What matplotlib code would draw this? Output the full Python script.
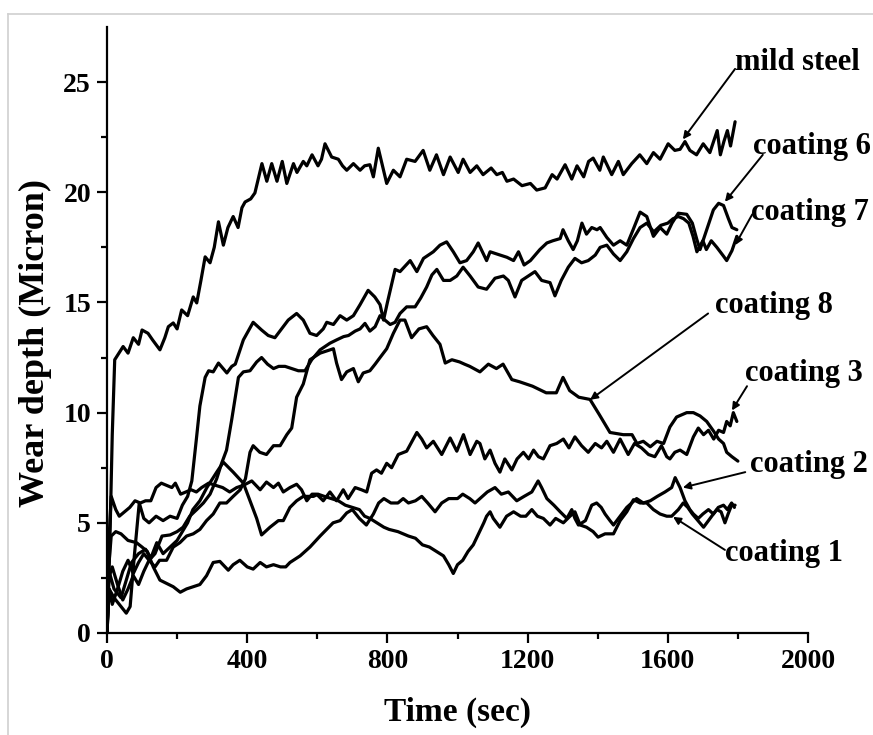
import numpy as np
import matplotlib.pyplot as plt
from matplotlib.lines import Line2D

# wear depth (micron) vs time (sec)
mild_steel = [(0, 0), (8, 4), (15, 9), (22, 12.4), (30, 12.6), (46, 13.0), (60, 12.7), (75, 13.4),
              (90, 13.1), (100, 13.75), (117, 13.6), (130, 13.3), (151, 12.85), (165, 13.4), (175, 13.9),
              (189, 14.07), (200, 13.8), (213, 14.66), (230, 14.4), (246, 15.25), (256, 14.98), (268, 16.0),
              (280, 17.07), (294, 16.8), (306, 17.5), (318, 18.66), (332, 17.6), (345, 18.4), (360, 18.9),
              (374, 18.4), (385, 19.3), (394, 19.56), (410, 19.7), (422, 19.97), (442, 21.3), (456, 20.5),
              (470, 21.3), (485, 20.5), (500, 21.4), (513, 20.4), (532, 21.3), (542, 20.9), (560, 21.4),
              (570, 21.2), (585, 21.7), (602, 21.2), (612, 21.5), (622, 22.2), (641, 21.6), (660, 21.5),
              (672, 21.2), (684, 21.0), (703, 21.3), (722, 21.0), (735, 21.2), (750, 21.25), (760, 20.7),
              (774, 22.0), (798, 20.4), (817, 21.0), (836, 20.7), (855, 21.5), (879, 21.4), (902, 21.9),
              (921, 21.0), (940, 21.7), (960, 20.8), (979, 21.6), (1002, 20.9), (1016, 21.5), (1036, 20.9),
              (1055, 21.2), (1073, 20.8), (1096, 21.1), (1112, 20.8), (1128, 20.9), (1141, 20.5),
              (1160, 20.6), (1184, 20.3), (1208, 20.4), (1226, 20.1), (1250, 20.2), (1270, 20.8),
              (1284, 20.6), (1307, 21.25), (1326, 20.6), (1341, 21.2), (1360, 20.7), (1374, 21.4),
              (1387, 21.55), (1406, 21.0), (1416, 21.6), (1440, 20.8), (1459, 21.4), (1473, 20.8),
              (1497, 21.3), (1520, 21.7), (1540, 21.3), (1559, 21.8), (1578, 21.5), (1601, 22.2),
              (1620, 21.9), (1635, 21.95), (1649, 22.3), (1663, 21.9), (1682, 21.7), (1701, 22.2),
              (1720, 21.8), (1741, 22.8), (1750, 21.7), (1760, 22.3), (1770, 22.8), (1779, 22.1), (1792, 23.2)]

coating_6 = [(0, 0), (6, 2.0), (20, 1.6), (40, 1.2), (55, 0.9), (66, 1.2), (78, 3.5), (92, 5.9), (105, 5.2),
             (120, 5.0), (140, 5.3), (160, 5.1), (180, 5.3), (200, 5.2), (215, 5.8), (230, 6.2), (242, 6.9),
             (255, 8.8), (265, 10.3), (280, 11.6), (290, 11.9), (303, 11.85), (318, 12.25), (342, 11.8),
             (356, 12.1), (366, 12.2), (389, 13.3), (417, 14.1), (441, 13.75), (460, 13.5), (479, 13.4),
             (498, 13.8), (517, 14.2), (541, 14.5), (560, 14.2), (579, 13.6), (598, 13.5), (617, 13.8),
             (627, 14.1), (646, 14.0), (665, 14.4), (684, 14.2), (703, 14.4), (722, 14.9), (745, 15.55),
             (764, 15.25), (779, 14.9), (789, 14.2), (800, 15.0), (822, 16.5), (836, 16.4), (865, 16.9),
             (884, 16.4), (903, 17.0), (931, 17.3), (950, 17.6), (969, 17.75), (988, 17.3), (1007, 16.8),
             (1026, 16.9), (1045, 17.3), (1059, 17.7), (1074, 17.2), (1083, 16.9), (1093, 17.3),
             (1112, 17.2), (1141, 17.05), (1160, 16.9), (1174, 17.3), (1190, 16.7), (1208, 16.9),
             (1235, 17.4), (1255, 17.7), (1272, 17.8), (1293, 17.9), (1301, 18.3), (1316, 17.8),
             (1330, 17.4), (1342, 17.8), (1355, 18.6), (1368, 18.1), (1383, 18.4), (1398, 18.3),
             (1407, 18.4), (1426, 17.95), (1445, 17.6), (1464, 17.8), (1483, 17.6), (1501, 18.3),
             (1521, 19.1), (1540, 18.9), (1559, 18.0), (1578, 18.4), (1597, 18.1), (1612, 18.6),
             (1630, 19.05), (1654, 19.0), (1670, 18.6), (1683, 17.85), (1692, 17.4), (1711, 18.3),
             (1730, 19.2), (1745, 19.5), (1759, 19.4), (1773, 18.8), (1783, 18.4), (1797, 18.3)]

coating_7 = [(0, 0), (5, 2.5), (15, 3.0), (30, 2.2), (45, 1.5), (60, 2.0), (75, 2.6), (90, 2.2), (105, 2.8),
             (120, 3.3), (137, 3.6), (157, 4.4), (180, 4.45), (200, 4.6), (217, 4.8), (236, 5.3), (256, 5.6),
             (275, 5.9), (294, 6.3), (313, 7.0), (327, 7.7), (341, 8.3), (356, 9.7), (375, 11.6),
             (389, 11.85), (408, 11.9), (427, 12.3), (441, 12.5), (458, 12.2), (475, 12.0), (490, 12.1),
             (508, 12.1), (527, 12.0), (546, 11.9), (565, 11.9), (584, 12.4), (608, 12.85), (636, 13.15),
             (655, 13.3), (675, 13.45), (689, 13.5), (708, 13.7), (722, 13.8), (736, 14.05), (750, 13.7),
             (765, 13.9), (779, 14.4), (793, 14.2), (808, 14.0), (822, 14.1), (836, 14.5), (855, 14.8),
             (879, 14.8), (895, 15.2), (912, 15.7), (927, 16.25), (941, 16.5), (960, 16.0), (979, 16.0),
             (998, 16.2), (1016, 16.6), (1036, 16.2), (1059, 15.7), (1083, 15.6), (1107, 16.1),
             (1131, 16.2), (1145, 16.0), (1164, 15.25), (1183, 16.0), (1202, 16.2), (1221, 16.4),
             (1240, 16.0), (1264, 15.9), (1278, 15.3), (1296, 16.0), (1316, 16.6), (1335, 17.0),
             (1354, 16.8), (1373, 16.9), (1393, 17.15), (1407, 17.5), (1426, 17.6), (1445, 17.2),
             (1464, 16.9), (1483, 17.3), (1502, 17.9), (1521, 18.4), (1540, 18.6), (1560, 18.2),
             (1580, 18.5), (1600, 18.6), (1615, 18.8), (1630, 18.9), (1645, 18.8), (1660, 18.6),
             (1672, 18.0), (1683, 17.3), (1700, 17.8), (1710, 17.4), (1724, 17.8), (1740, 17.5),
             (1759, 17.1), (1768, 16.9), (1783, 17.35), (1797, 18.0)]

coating_8 = [(0, 0), (6, 2.0), (15, 1.3), (30, 2.0), (45, 2.8), (60, 3.3), (75, 2.7), (90, 3.2), (105, 3.6),
             (120, 3.3), (137, 3.0), (150, 3.3), (170, 3.3), (189, 3.9), (208, 4.1), (227, 4.4), (246, 4.5),
             (265, 4.7), (284, 5.1), (303, 5.4), (322, 5.9), (341, 5.9), (360, 6.2), (380, 6.5), (395, 7.0),
             (408, 8.2), (417, 8.5), (436, 8.2), (455, 8.1), (475, 8.5), (494, 8.5), (513, 9.0), (527, 9.3),
             (541, 10.7), (560, 11.3), (579, 12.4), (608, 12.7), (627, 12.8), (646, 12.9), (655, 12.25),
             (669, 11.5), (684, 11.85), (703, 12.0), (717, 11.4), (731, 11.8), (750, 11.9), (765, 12.2),
             (779, 12.5), (798, 12.9), (817, 13.6), (836, 14.2), (850, 14.2), (869, 13.4), (890, 13.8),
             (912, 13.9), (930, 13.5), (950, 13.1), (965, 12.25), (984, 12.4), (1006, 12.3), (1020, 12.2),
             (1035, 12.1), (1064, 11.85), (1088, 12.2), (1111, 12.0), (1130, 12.2), (1155, 11.5),
             (1177, 11.4), (1214, 11.2), (1253, 10.9), (1282, 10.9), (1301, 11.6), (1320, 11.0),
             (1346, 10.7), (1378, 10.6), (1405, 9.9), (1435, 9.1), (1473, 9.0), (1498, 9.0), (1512, 8.6),
             (1530, 8.7), (1550, 8.45), (1569, 8.7), (1588, 8.6), (1606, 9.35), (1625, 9.8), (1654, 10.0),
             (1673, 10.0), (1692, 9.85), (1711, 9.6), (1731, 9.15), (1745, 8.8), (1759, 8.6), (1768, 8.2),
             (1783, 8.0), (1800, 7.8)]

coating_3 = [(0, 0), (5, 4.0), (12, 6.2), (25, 5.6), (35, 5.3), (50, 5.5), (65, 5.7), (80, 6.0), (95, 5.9),
             (110, 6.0), (125, 6.0), (140, 6.6), (155, 6.8), (170, 6.7), (185, 6.6), (195, 6.8), (210, 6.3),
             (225, 6.4), (240, 6.5), (255, 6.4), (270, 6.6), (290, 6.8), (310, 6.7), (330, 6.6), (350, 6.4),
             (370, 6.6), (389, 6.7), (413, 6.9), (437, 6.5), (455, 6.85), (475, 6.6), (489, 6.8), (503, 6.4),
             (522, 6.6), (541, 6.75), (555, 6.5), (570, 6.0), (585, 6.3), (598, 6.3), (617, 6.0), (636, 6.4),
             (655, 6.0), (674, 6.5), (688, 6.1), (708, 6.6), (726, 6.5), (741, 6.4), (755, 7.25),
             (769, 7.4), (783, 7.25), (798, 7.7), (812, 7.5), (831, 8.1), (855, 8.25), (884, 9.1),
             (898, 8.8), (912, 8.4), (931, 8.7), (955, 8.1), (979, 8.85), (998, 8.25), (1017, 9.0),
             (1036, 8.1), (1055, 8.7), (1064, 8.6), (1078, 7.9), (1093, 8.3), (1107, 7.7), (1121, 7.3),
             (1135, 7.9), (1155, 7.4), (1170, 7.9), (1188, 8.2), (1203, 7.9), (1217, 8.3), (1231, 8.0),
             (1245, 7.9), (1264, 8.5), (1283, 8.6), (1302, 8.8), (1318, 8.4), (1335, 8.9), (1354, 8.5),
             (1373, 8.2), (1393, 8.6), (1411, 8.4), (1426, 8.7), (1445, 8.2), (1464, 8.8), (1487, 8.1),
             (1505, 8.6), (1525, 8.4), (1545, 8.1), (1563, 8.0), (1582, 8.5), (1597, 8.0), (1606, 7.9),
             (1620, 8.2), (1635, 8.3), (1654, 8.1), (1673, 8.9), (1687, 9.3), (1702, 9.0), (1716, 9.2),
             (1731, 8.8), (1745, 9.2), (1759, 9.1), (1768, 9.6), (1778, 9.4), (1787, 10.0), (1797, 9.6)]

coating_2 = [(0, 0), (5, 3.0), (12, 4.4), (25, 4.6), (40, 4.5), (60, 4.2), (84, 4.1), (100, 3.9), (115, 3.7),
             (132, 3.0), (151, 2.4), (170, 2.25), (189, 2.1), (209, 1.85), (227, 2.0), (246, 2.1), (265, 2.2),
             (284, 2.6), (303, 3.2), (322, 3.25), (346, 2.85), (360, 3.1), (379, 3.3), (400, 3.0),
             (417, 2.9), (437, 3.2), (455, 3.0), (475, 3.1), (495, 3.0), (510, 3.0), (522, 3.2), (551, 3.5),
             (579, 3.9), (608, 4.4), (645, 5.0), (665, 5.1), (684, 5.45), (700, 5.6), (720, 5.2), (740, 4.9),
             (760, 5.4), (775, 5.9), (790, 6.1), (810, 5.9), (830, 5.9), (845, 6.1), (860, 5.9), (880, 6.0),
             (898, 6.2), (915, 5.9), (936, 5.5), (955, 5.9), (975, 6.1), (1000, 6.1), (1015, 6.3),
             (1035, 6.1), (1050, 5.9), (1064, 6.1), (1085, 6.4), (1107, 6.6), (1125, 6.3), (1145, 6.4),
             (1169, 6.0), (1190, 6.2), (1212, 6.4), (1230, 6.9), (1240, 6.6), (1255, 6.1), (1275, 5.8),
             (1293, 5.5), (1312, 5.2), (1326, 5.6), (1335, 5.2), (1345, 4.9), (1365, 5.1), (1383, 5.8),
             (1397, 5.9), (1410, 5.7), (1421, 5.4), (1435, 5.1), (1445, 4.9), (1464, 5.3), (1483, 5.7),
             (1511, 6.1), (1530, 5.9), (1550, 6.0), (1570, 6.2), (1592, 6.4), (1611, 6.6), (1621, 7.05),
             (1635, 6.6), (1649, 6.0), (1663, 5.6), (1673, 5.4), (1687, 5.2), (1700, 5.4), (1716, 5.6),
             (1730, 5.4), (1744, 5.7), (1759, 5.8), (1770, 5.6), (1782, 5.9), (1790, 5.7)]

coating_1 = [(0, 0), (6, 2.8), (20, 2.0), (40, 1.6), (55, 2.4), (70, 3.2), (90, 3.6), (110, 3.8), (125, 3.4),
             (142, 4.1), (160, 3.6), (180, 3.9), (200, 4.2), (215, 4.6), (230, 5.0), (245, 5.6), (265, 6.0),
             (285, 6.6), (313, 7.3), (332, 7.75), (360, 7.3), (389, 6.8), (408, 6.0), (427, 5.2),
             (441, 4.45), (465, 4.8), (489, 5.1), (503, 5.1), (522, 5.7), (541, 6.0), (560, 6.2), (589, 6.2),
             (602, 6.3), (620, 6.2), (640, 6.1), (660, 6.0), (680, 5.8), (700, 5.7), (720, 5.6), (735, 5.3),
             (750, 5.2), (770, 5.0), (790, 4.8), (805, 4.7), (830, 4.6), (845, 4.5), (860, 4.4), (880, 4.3),
             (900, 4.0), (920, 3.9), (940, 3.7), (960, 3.5), (975, 3.1), (988, 2.7), (1000, 3.1),
             (1015, 3.3), (1030, 3.7), (1045, 4.0), (1060, 4.5), (1075, 5.0), (1083, 5.3), (1093, 5.5),
             (1102, 5.2), (1121, 4.8), (1140, 5.3), (1160, 5.5), (1180, 5.3), (1195, 5.3), (1212, 5.6),
             (1228, 5.3), (1245, 5.2), (1264, 4.9), (1280, 5.2), (1302, 5.0), (1321, 5.3), (1335, 5.5),
             (1350, 4.9), (1368, 4.8), (1387, 4.6), (1401, 4.35), (1421, 4.5), (1445, 4.5), (1464, 5.1),
             (1483, 5.5), (1502, 6.05), (1521, 5.9), (1540, 5.9), (1559, 5.6), (1578, 5.4), (1597, 5.3),
             (1611, 5.3), (1630, 5.6), (1644, 5.9), (1657, 5.7), (1670, 5.4), (1686, 5.1), (1702, 4.8),
             (1716, 5.1), (1730, 5.4), (1740, 5.6), (1752, 5.5), (1763, 5.0), (1772, 5.4), (1782, 5.8),
             (1792, 5.8)]

series = [mild_steel, coating_6, coating_7, coating_8, coating_3, coating_2, coating_1]

# label text, label anchor (left/centre), arrow tip on the curve
labels = ['mild steel', 'coating 6', 'coating 7', 'coating 8', 'coating 3', 'coating 2', 'coating 1']
label_pos = [(1792, 25.9), (1843, 22.07), (1836, 19.07), (1735, 14.85), (1820, 11.76), (1835, 7.63), (1763, 3.63)]
arrow_from = [(1792, 25.6), (1871, 21.7), (1841, 19.0), (1715, 14.5), (1826, 11.2), (1821, 7.3), (1763, 3.77)]
arrow_to = [(1643, 22.4), (1763, 19.57), (1792, 17.6), (1378, 10.58), (1783, 10.1), (1643, 6.6), (1615, 5.27)]

plt.rcParams['font.family'] = ['Liberation Serif', 'DejaVu Serif']
plt.rcParams['font.weight'] = 'bold'

fig = plt.figure(figsize=(8.73, 7.35), dpi=100)
ax = fig.add_axes([107 / 873, 1 - 633 / 735, 701 / 873, 606 / 735])

for s in series:
    t, w = np.array(s).T
    ax.plot(t, w, color='black', lw=2.3, solid_joinstyle='round', solid_capstyle='round')

for text, lp, a0, a1 in zip(labels, label_pos, arrow_from, arrow_to):
    ax.text(lp[0], lp[1], text, fontsize=22, fontweight='bold', ha='left', va='center', clip_on=False)
    ax.annotate('', xy=a1, xytext=a0, annotation_clip=False,
                arrowprops=dict(arrowstyle='-|>', color='black', lw=1.4, mutation_scale=11,
                                shrinkA=0, shrinkB=0))

ax.set_xlim(0, 2000)
ax.set_ylim(0, 27.5)
ax.set_xticks(np.arange(0, 2001, 400))
ax.set_xticks(np.arange(0, 2001, 200), minor=True)
ax.set_yticks(np.arange(0, 26, 5))
ax.set_yticks(np.arange(0, 27.5, 2.5), minor=True)
ax.tick_params(which='major', direction='out', length=7.5, width=1.6, labelsize=20, pad=4)
ax.tick_params(which='minor', direction='out', length=4.5, width=1.6)
for lab in ax.get_xticklabels() + ax.get_yticklabels():
    lab.set_fontweight('bold')

ax.spines['top'].set_visible(False)
ax.spines['right'].set_visible(False)
ax.spines['left'].set_linewidth(1.6)
ax.spines['bottom'].set_linewidth(1.6)

ax.set_xlabel('Time (sec)', fontsize=24, fontweight='bold')
ax.set_ylabel('Wear depth (Micron)', fontsize=26, fontweight='bold')
ax.xaxis.set_label_coords(0.5, -0.105)
ax.yaxis.set_label_coords(-0.078, 0.478)

# light grey frame around the figure (top and left edges)
gc = '#d0d0d0'
fig.add_artist(Line2D([8 / 873, 1.0], [1 - 14 / 735] * 2, transform=fig.transFigure, color=gc, lw=1.2))
fig.add_artist(Line2D([8 / 873] * 2, [0, 1 - 14 / 735], transform=fig.transFigure, color=gc, lw=1.2))

fig.savefig('out.png', dpi=100)
